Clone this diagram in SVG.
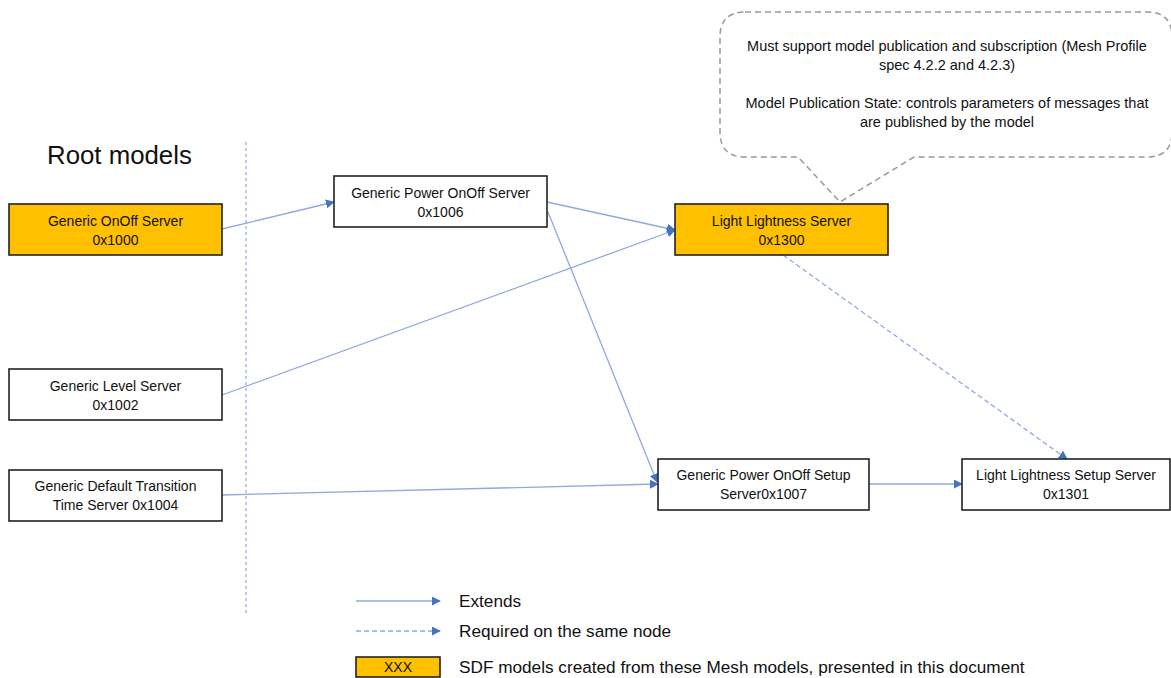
<svg xmlns="http://www.w3.org/2000/svg" width="1171" height="678" viewBox="0 0 1171 678">
<defs>
<style>
text{font-family:"Liberation Sans","Open Sans",sans-serif;font-size:14px;fill:#111;}
.c{text-anchor:middle;}
.box{fill:#fff;stroke:#222;stroke-width:1.6;}
.gold{fill:#FFC000;stroke:#222;stroke-width:1.6;}
.e{stroke:#8FAADC;stroke-width:1.3;fill:none;marker-end:url(#ah);}
.d{stroke:#8FAADC;stroke-width:1.3;fill:none;stroke-dasharray:5 3;marker-end:url(#ah);}
.lg{font-size:17.2px;}
.co{font-size:14.5px;}
</style>
<marker id="ah" viewBox="0 0 10 10" refX="9" refY="5" markerWidth="9" markerHeight="9" markerUnits="userSpaceOnUse" orient="auto">
<path d="M0,0 L10,5 L0,10 z" fill="#4472C4"/>
</marker>
</defs>
<rect width="1171" height="678" fill="#fff"/>

<text x="47" y="164" style="font-size:25.8px">Root models</text>
<line x1="246" y1="142" x2="246" y2="615" stroke="#8FAADC" stroke-width="1.2" stroke-dasharray="3 3"/>

<g id="callout">
<path d="M745,12 H1147 Q1172,12 1172,37 V132 Q1172,157 1147,157 H914 L840,202 L798,157 H745 Q720,157 720,132 V37 Q720,12 745,12 Z" fill="#fff" stroke="#999" stroke-width="1.5" stroke-dasharray="6 4"/>
<text class="c co" x="947" y="51">Must support model publication and subscription (Mesh Profile</text>
<text class="c co" x="947" y="70">spec 4.2.2 and 4.2.3)</text>
<text class="c co" x="947" y="108">Model Publication State: controls parameters of messages that</text>
<text class="c co" x="947" y="127">are published by the model</text>
</g>

<g id="connectors">
<line class="e" x1="222" y1="229" x2="334" y2="202"/>
<line class="e" x1="547" y1="202" x2="675" y2="230"/>
<line class="e" x1="222" y1="395" x2="675" y2="230"/>
<line class="e" x1="548" y1="212" x2="657" y2="482"/>
<line class="e" x1="222" y1="495" x2="658" y2="484"/>
<line class="e" x1="869" y1="484" x2="962" y2="484"/>
<line class="d" x1="783" y1="255" x2="1067" y2="459"/>
</g>

<g id="n1000"><rect class="gold" x="9" y="204" width="213" height="51"/>
<text class="c" x="115.5" y="226">Generic OnOff Server</text><text class="c" x="115.5" y="245">0x1000</text></g>
<g id="n1006"><rect class="box" x="334" y="176" width="213" height="51"/>
<text class="c" x="440.5" y="198">Generic Power OnOff Server</text><text class="c" x="440.5" y="217">0x1006</text></g>
<g id="n1300"><rect class="gold" x="675" y="204" width="213" height="51"/>
<text class="c" x="781.5" y="226">Light Lightness Server</text><text class="c" x="781.5" y="245">0x1300</text></g>
<g id="n1002"><rect class="box" x="9" y="369" width="213" height="51"/>
<text class="c" x="115.5" y="391">Generic Level Server</text><text class="c" x="115.5" y="410">0x1002</text></g>
<g id="n1004"><rect class="box" x="9" y="470" width="213" height="51"/>
<text class="c" x="115.5" y="491">Generic Default Transition</text><text class="c" x="115.5" y="510">Time Server 0x1004</text></g>
<g id="n1007"><rect class="box" x="658" y="459" width="211" height="51"/>
<text class="c" x="763.5" y="480">Generic Power OnOff Setup</text><text class="c" x="763.5" y="499">Server0x1007</text></g>
<g id="n1301"><rect class="box" x="962" y="459" width="208" height="51"/>
<text class="c" x="1066" y="480">Light Lightness Setup Server</text><text class="c" x="1066" y="499">0x1301</text></g>

<g id="legend">
<line class="e" x1="356" y1="601" x2="440" y2="601"/>
<text class="lg" x="459" y="607">Extends</text>
<line class="d" x1="356" y1="631" x2="440" y2="631"/>
<text class="lg" x="459" y="637">Required on the same node</text>
<rect class="gold" x="356" y="657" width="84" height="20"/>
<text class="c" x="398" y="672">XXX</text>
<text class="lg" x="459" y="673">SDF models created from these Mesh models, presented in this document</text>
</g>
</svg>
